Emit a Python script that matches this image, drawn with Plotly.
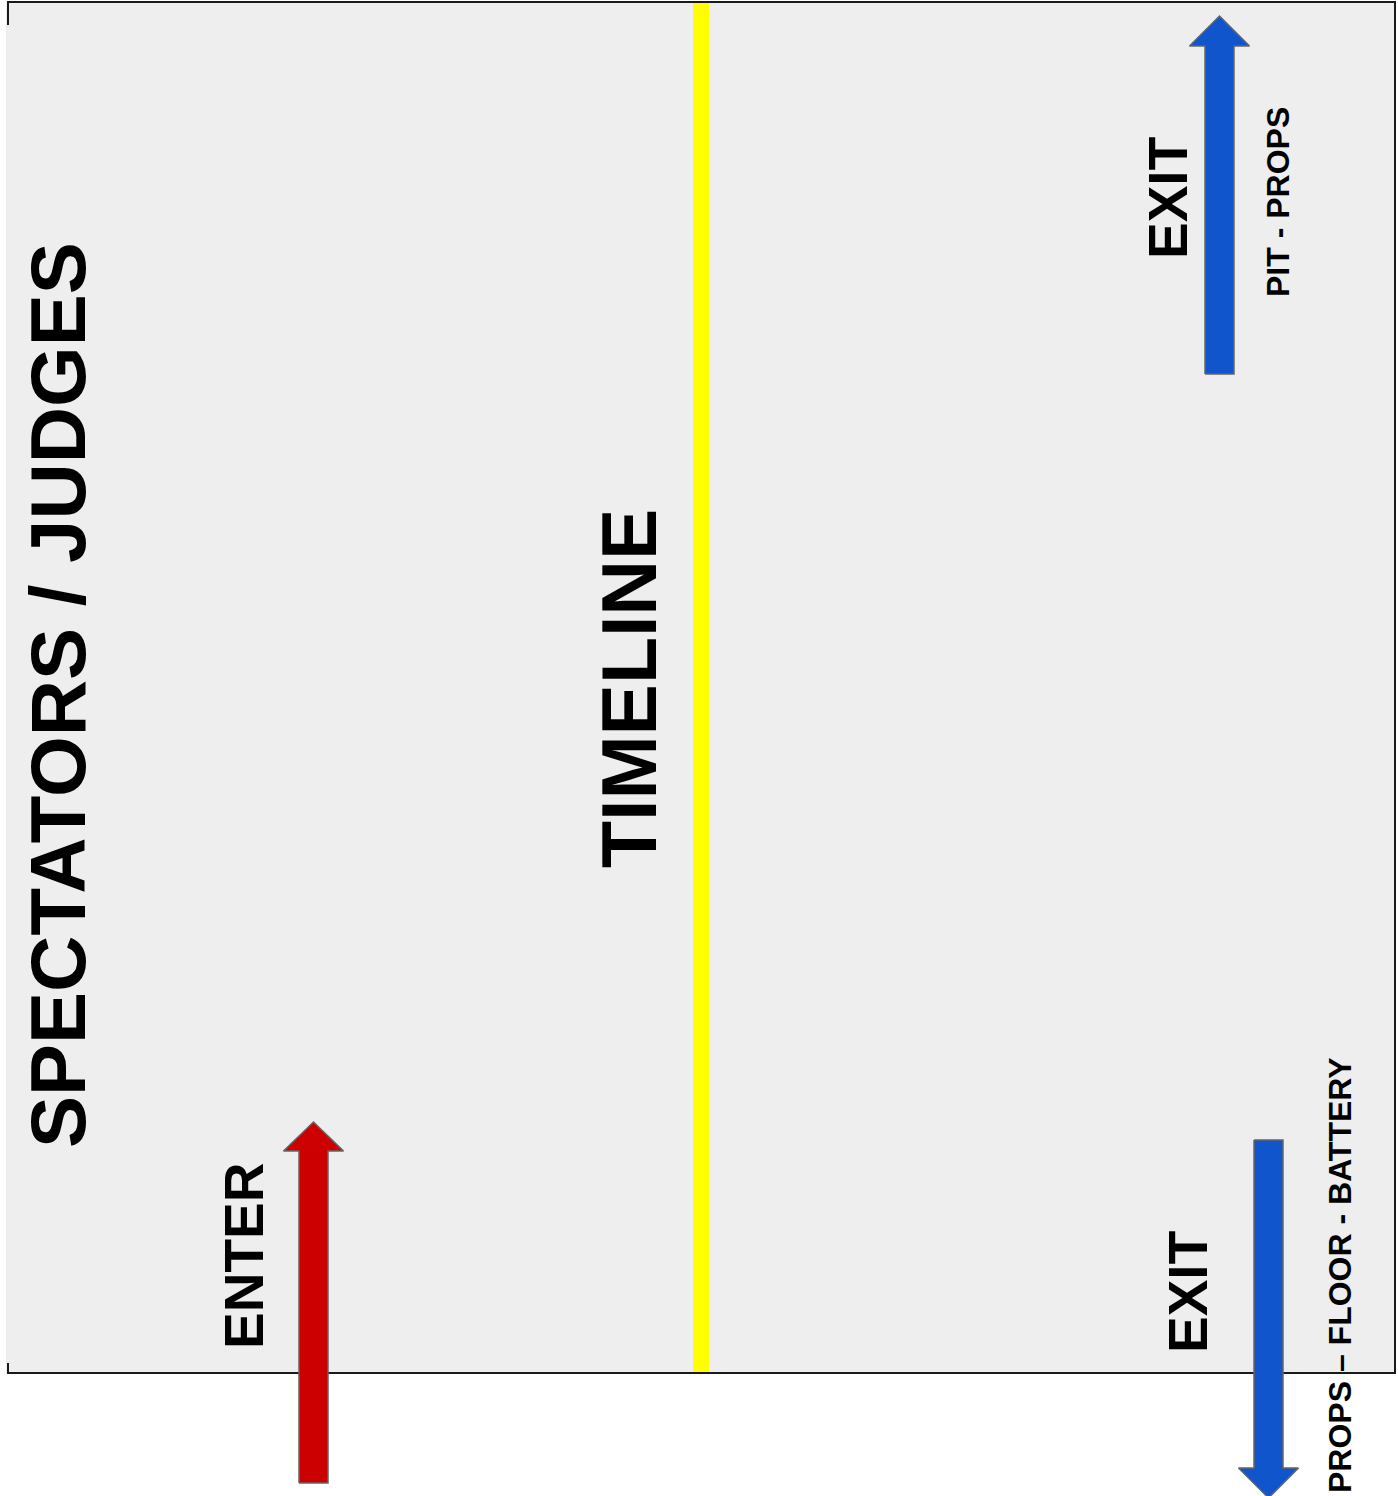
import plotly.graph_objects as go

# ---- content (diagram coordinates in page pixels, y grows downward) ----
text_labels = ["SPECTATORS / JUDGES", "TIMELINE", "ENTER", "EXIT", "PIT - PROPS", "EXIT", "PROPS – FLOOR - BATTERY"]
text_x = [58, 629, 244, 1168, 1278, 1188, 1340]
text_y = [695, 689, 1256, 198, 202, 1292, 1275]
text_size = [78, 77, 55, 55, 32, 55, 32]

arrow_names = ["enter", "exit_pit", "exit_floor"]
arrow_xc = [313.5, 1219.5, 1268.5]
arrow_tail_y = [1483, 374, 1140]
arrow_base_y = [1151, 46, 1468]
arrow_tip_y = [1122, 16, 1498]
arrow_colors = ["#cc0000", "#1155cc", "#1155cc"]

SHAFT_HALF = 14.5
HEAD_HALF = 30

fig = go.Figure()

for name, xc, yt, yb, ytip, col in zip(arrow_names, arrow_xc, arrow_tail_y, arrow_base_y, arrow_tip_y, arrow_colors):
    xs = [xc - SHAFT_HALF, xc - SHAFT_HALF, xc - HEAD_HALF, xc, xc + HEAD_HALF, xc + SHAFT_HALF, xc + SHAFT_HALF, xc - SHAFT_HALF]
    ys = [yt, yb, yb, ytip, yb, yb, yt, yt]
    fig.add_trace(go.Scatter(x=xs, y=ys, mode="lines", fill="toself", fillcolor=col,
                             line=dict(color="#666666", width=1.5), name=name,
                             hoverinfo="skip", showlegend=False))

shapes = [
    # stage background
    dict(type="rect", x0=6, x1=1395, y0=2, y1=1373, fillcolor="#eeeeee", line=dict(width=0), layer="below"),
    # timeline
    dict(type="rect", x0=693, x1=709, y0=2, y1=1373, fillcolor="#ffff00", line=dict(width=0), layer="below"),
    # borders
    dict(type="line", x0=7, x1=1396, y0=2, y1=2, line=dict(color="#1a1a1a", width=2), layer="below"),
    dict(type="line", x0=1395, x1=1395, y0=2, y1=1373, line=dict(color="#1a1a1a", width=2), layer="below"),
    dict(type="line", x0=7, x1=1396, y0=1373, y1=1373, line=dict(color="#1a1a1a", width=2), layer="below"),
    dict(type="line", x0=8, x1=8, y0=2, y1=25, line=dict(color="#1a1a1a", width=2), layer="below"),
    dict(type="line", x0=8, x1=8, y0=1363, y1=1373, line=dict(color="#1a1a1a", width=2), layer="below"),
]

annotations = []
for t, x, y, s in zip(text_labels, text_x, text_y, text_size):
    annotations.append(dict(text="<b>%s</b>" % t, x=x, y=y, xref="x", yref="y",
                            showarrow=False, textangle=-90, xanchor="center", yanchor="middle",
                            font=dict(family="Liberation Sans, Arial, sans-serif", size=s, color="#000000")))

fig.update_layout(
    width=1398, height=1496,
    margin=dict(l=0, r=0, t=0, b=0),
    paper_bgcolor="#ffffff", plot_bgcolor="#ffffff",
    shapes=shapes, annotations=annotations,
    xaxis=dict(range=[0, 1398], visible=False, fixedrange=True),
    yaxis=dict(range=[1496, 0], visible=False, fixedrange=True),
    showlegend=False,
)

fig.write_html("out.html", config={"displayModeBar": False},
               post_script="document.body.style.margin='0';document.body.style.overflow='hidden';")
